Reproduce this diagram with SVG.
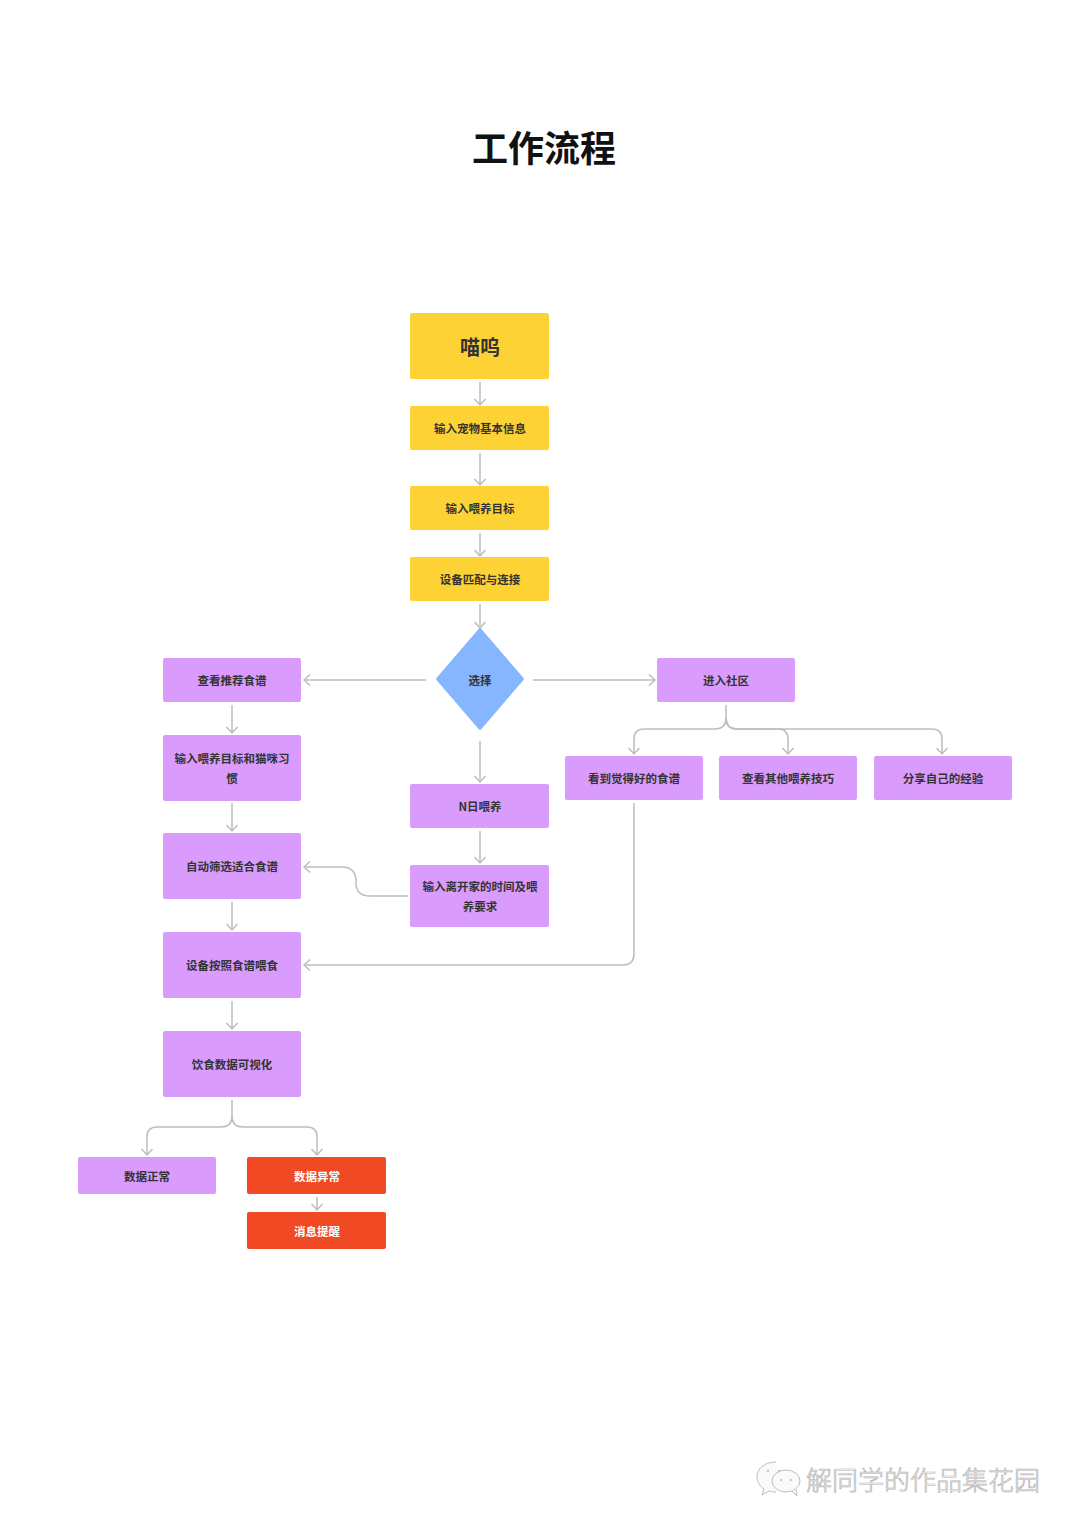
<svg xmlns="http://www.w3.org/2000/svg" width="1080" height="1527" viewBox="0 0 1080 1527">
<style>
.y{fill:#FDD235}
.p{fill:#D99CFC}
.r{fill:#F04923}
.t{font-family:"Noto Sans CJK SC","Noto Sans",sans-serif;font-weight:bold;font-size:11.5px;fill:#333;text-anchor:middle;dominant-baseline:central}
.w{fill:#fff}
.c{fill:none;stroke:#BDBDBD;stroke-width:1.5}
</style>
<defs>
<marker id="a" markerUnits="userSpaceOnUse" viewBox="-8 -7 10 14" refX="0" refY="0" markerWidth="10" markerHeight="14" orient="auto">
<path d="M-6,-5.5 L0,0 L-6,5.5" fill="none" stroke="#BDBDBD" stroke-width="1.5"/>
</marker>
</defs>
<rect width="1080" height="1527" fill="#fff"/>
<text x="544" y="146" font-family="Noto Sans CJK SC,sans-serif" font-weight="bold" font-size="36" fill="#111" text-anchor="middle" dominant-baseline="central">工作流程</text>

<g id="connectors">
<path class="c" marker-end="url(#a)" d="M480,382 V405"/>
<path class="c" marker-end="url(#a)" d="M480,453 V485"/>
<path class="c" marker-end="url(#a)" d="M480,533 V556"/>
<path class="c" marker-end="url(#a)" d="M480,604 V628"/>
<path class="c" marker-end="url(#a)" d="M426,680 H304"/>
<path class="c" marker-end="url(#a)" d="M533,680 H655"/>
<path class="c" marker-end="url(#a)" d="M480,741 V782"/>
<path class="c" marker-end="url(#a)" d="M480,831 V863"/>
<path class="c" marker-end="url(#a)" d="M408,896 H370 Q357,896 356,884 V880 Q355,867 342,867 H304"/>
<path class="c" marker-end="url(#a)" d="M232,705 V733"/>
<path class="c" marker-end="url(#a)" d="M232,803 V831"/>
<path class="c" marker-end="url(#a)" d="M232,902 V930"/>
<path class="c" marker-end="url(#a)" d="M232,1001 V1029"/>
<path class="c" marker-end="url(#a)" d="M634,803 V954 Q634,965 623,965 H304"/>
<path class="c" marker-end="url(#a)" d="M726,705 V718 Q726,729 715,729 H644 Q634,729 634,739 V754"/>
<path class="c" marker-end="url(#a)" d="M726,718 Q726,729 737,729 H778 Q788,729 788,739 V754"/>
<path class="c" marker-end="url(#a)" d="M726,718 Q726,729 737,729 H932 Q942,729 942,739 V754"/>
<path class="c" marker-end="url(#a)" d="M232,1100 V1116 Q232,1127 221,1127 H157 Q147,1127 147,1137 V1155"/>
<path class="c" marker-end="url(#a)" d="M232,1116 Q232,1127 243,1127 H307 Q317,1127 317,1137 V1155"/>
<path class="c" marker-end="url(#a)" d="M317,1197 V1210"/>
</g>

<g id="n1"><rect class="y" x="410" y="313" width="139" height="66" rx="2"/><text class="t" x="480" y="346" style="font-size:20px">喵呜</text></g>
<g id="n2"><rect class="y" x="410" y="406" width="139" height="44" rx="2"/><text class="t" x="480" y="428">输入宠物基本信息</text></g>
<g id="n3"><rect class="y" x="410" y="486" width="139" height="44" rx="2"/><text class="t" x="480" y="508">输入喂养目标</text></g>
<g id="n4"><rect class="y" x="410" y="557" width="139" height="44" rx="2"/><text class="t" x="480" y="579">设备匹配与连接</text></g>
<g id="n5"><path d="M480,629 L523,679 L480,729 L437,679 Z" fill="#85B6FF" stroke="#85B6FF" stroke-width="2" stroke-linejoin="round"/><text class="t" x="480" y="680">选择</text></g>
<g id="n6"><rect class="p" x="163" y="658" width="138" height="44" rx="2"/><text class="t" x="232" y="680">查看推荐食谱</text></g>
<g id="n7"><rect class="p" x="163" y="735" width="138" height="66" rx="2"/><text class="t" x="232" y="758">输入喂养目标和猫咪习</text><text class="t" x="232" y="778">惯</text></g>
<g id="n8"><rect class="p" x="163" y="833" width="138" height="66" rx="2"/><text class="t" x="232" y="866">自动筛选适合食谱</text></g>
<g id="n9"><rect class="p" x="163" y="932" width="138" height="66" rx="2"/><text class="t" x="232" y="965">设备按照食谱喂食</text></g>
<g id="n10"><rect class="p" x="163" y="1031" width="138" height="66" rx="2"/><text class="t" x="232" y="1064">饮食数据可视化</text></g>
<g id="n11"><rect class="p" x="78" y="1157" width="138" height="37" rx="2"/><text class="t" x="147" y="1176">数据正常</text></g>
<g id="n12"><rect class="r" x="247" y="1157" width="139" height="37" rx="2"/><text class="t" x="317" y="1176" style="fill:#fff">数据异常</text></g>
<g id="n13"><rect class="r" x="247" y="1212" width="139" height="37" rx="2"/><text class="t" x="317" y="1231" style="fill:#fff">消息提醒</text></g>
<g id="n14"><rect class="p" x="410" y="784" width="139" height="44" rx="2"/><text class="t" x="480" y="806">N日喂养</text></g>
<g id="n15"><rect class="p" x="410" y="865" width="139" height="62" rx="2"/><text class="t" x="480" y="886">输入离开家的时间及喂</text><text class="t" x="480" y="906">养要求</text></g>
<g id="n16"><rect class="p" x="657" y="658" width="138" height="44" rx="2"/><text class="t" x="726" y="680">进入社区</text></g>
<g id="n17"><rect class="p" x="565" y="756" width="138" height="44" rx="2"/><text class="t" x="634" y="778">看到觉得好的食谱</text></g>
<g id="n18"><rect class="p" x="719" y="756" width="138" height="44" rx="2"/><text class="t" x="788" y="778">查看其他喂养技巧</text></g>
<g id="n19"><rect class="p" x="874" y="756" width="138" height="44" rx="2"/><text class="t" x="943" y="778">分享自己的经验</text></g>

<g id="watermark">
<g fill="#fafafa" stroke="#bdbdbd" stroke-width="1">
<path d="M776,1462 C764,1462 757,1469 757,1477 C757,1482 760,1486 764,1489 L762,1495 L769,1491 C771,1492 774,1492 776,1492"/>
<ellipse cx="786" cy="1481" rx="14" ry="11"/>
<path d="M792,1491 L797,1496 L796,1489"/>
</g>
<g fill="#c8c8c8"><circle cx="768" cy="1471" r="1.3"/><circle cx="779" cy="1471" r="1.3"/><circle cx="781" cy="1480" r="1.2"/><circle cx="791" cy="1480" r="1.2"/></g>
<text x="923" y="1478" font-family="Noto Sans CJK SC,sans-serif" font-weight="300" font-size="26" fill="#fafafa" stroke="#b5b5b5" stroke-width="0.7" text-anchor="middle" dominant-baseline="central">解同学的作品集花园</text>
</g>
</svg>
